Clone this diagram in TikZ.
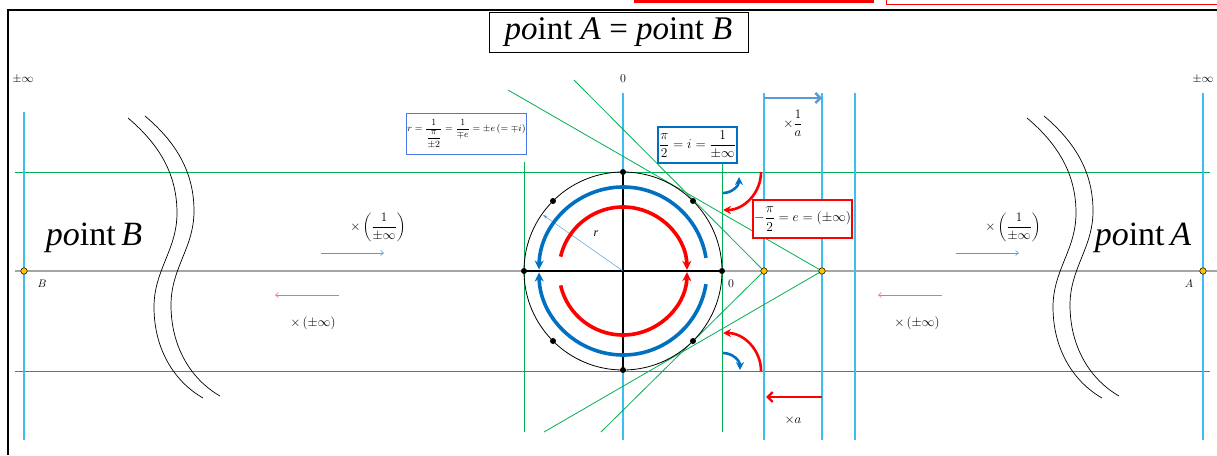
\RequirePackage{fix-cm}
\documentclass[tikz,border=0pt]{standalone}
\usepackage{amsmath}
\usepackage{fontspec}
\setmainfont{Liberation Serif}
\usetikzlibrary{arrows.meta, positioning, calc}
\definecolor{pgreen}{HTML}{00B050}
\definecolor{pcyan}{HTML}{3CBEF0}
\definecolor{pblue}{HTML}{0070C0}
\definecolor{pred}{HTML}{FF0000}
\definecolor{paxis}{HTML}{A6A6A6}
\definecolor{pyellow}{HTML}{FFC000}
\definecolor{pbox}{HTML}{4A78E8}
\definecolor{plblue}{HTML}{5B9BD5}
\definecolor{plred}{HTML}{FF6B6B}

\begin{document}
\begin{tikzpicture}[x=1pt, y=-1pt,
  gline/.style={draw=pgreen, line width=0.8pt},
  cline/.style={draw=pcyan, line width=1.3pt},
  vdot/.style={circle, fill=black, inner sep=0pt, minimum size=6pt},
  ydot/.style={circle, draw=black, fill=pyellow, inner sep=0pt, minimum size=6.5pt, line width=0.5pt},
  eqbox/.style={fill=white, inner sep=2pt, align=center},
  lbl/.style={font=\fontsize{12}{14}\selectfont, inner sep=0pt},
  mlbl/.style={font=\fontsize{13}{15}\selectfont, inner sep=0pt},
  big/.style={font=\fontsize{34}{36}\selectfont, inner sep=0pt},
  bigarc/.style={line width=3.6pt, -{Stealth[length=9pt, width=9pt]}},
  smallarc/.style={line width=2.6pt, -{Stealth[length=8pt, width=8pt]}},
  thinarr/.style={line width=0.6pt, -{Straight Barb[length=3pt, width=5pt]}},
  fatarr/.style={line width=2.4pt, -{Straight Barb[length=5pt, width=10pt]}}
]
  \useasboundingbox (0,0) rectangle (1217,455);

  % Frame at the top
  \fill[pred] (634,0) rectangle (874,2.5);
  \draw[pred, line width=0.8pt] (886,-4) rectangle (1225,4);
  \draw[line width=1.8pt] (8,455) -- (8,10) -- (1217,10);

  % Main axis
  \coordinate (axL) at (15,271);
  \coordinate (axR) at (1217,271);
  \draw[paxis, line width=1.4pt] (axL) -- (axR);

  % Green grid
  \foreach \py in {172, 371}
    \draw[gline] (15,\py) -- (1210,\py);
  \foreach \px in {524, 722}
    \draw[gline] (\px,162) -- (\px,432);

  % Cyan verticals
  \foreach \px/\py in {24/112, 623/93, 764/93, 822/93, 855/93, 1203/93}
    \draw[cline] (\px,\py) -- (\px,440);

  % Key points
  \coordinate (O) at (623,271);
  \node[ydot] (B) at (24,271) {};
  \node[ydot] (P1) at (764,271) {};
  \node[ydot] (P2) at (822,271) {};
  \node[ydot] (A) at (1203,271) {};

  % Tangent lines
  \coordinate (t1) at (508,90);
  \coordinate (t2) at (574,80);
  \coordinate (t3) at (544,432);
  \coordinate (t4) at (601,432);
  \draw[gline] (t1) -- (P2);
  \draw[gline] (t3) -- (P2);
  \draw[gline] (t2) -- (P1);
  \draw[gline] (t4) -- (P1);

  % Circle
  \draw[line width=0.8pt] (O) circle[radius=99];
  \foreach \a in {0,45,...,315}
    \coordinate (c\a) at ($(O)+(\a:99)$);
  \draw[line width=1.2pt] (c180) -- (c0);
  \draw[line width=1.2pt] (c90) -- (c270);
  \draw[plblue, line width=0.5pt, -{Stealth[length=5pt, width=3pt]}] (O) -- ($(O)+(-145:98)$) coordinate (rE);
  \node[lbl, font=\fontsize{12}{14}\selectfont\itshape] (rlab) at (596,234) {r};

  % Turning arcs
  \draw[pblue, bigarc] ($(O)+(-9:84)$) arc[start angle=-9, end angle=-179, radius=84];
  \draw[pblue, bigarc] ($(O)+(9:84)$) arc[start angle=9, end angle=179, radius=84];
  \draw[pred, bigarc] ($(O)+(-167:64)$) arc[start angle=-167, end angle=-1, radius=64];
  \draw[pred, bigarc] ($(O)+(167:64)$) arc[start angle=167, end angle=1, radius=64];

  \foreach \a in {0,45,...,315}
    \node[vdot] (d\a) at (c\a) {};

  % Small arcs by the circle
  \coordinate (sb1) at (723,193);
  \coordinate (sr1) at (761,172);
  \coordinate (sb2) at (723,353);
  \coordinate (sr2) at (761,371);
  \draw[pblue, smallarc] (sb1) arc[start angle=90, end angle=0, radius=16];
  \draw[pred, smallarc] (sr1) arc[start angle=0, end angle=90, radius=38];
  \draw[pblue, smallarc] (sb2) arc[start angle=-90, end angle=0, radius=17];
  \draw[pred, smallarc] (sr2) arc[start angle=0, end angle=-90, radius=38];

  % Wavy cuts
  \foreach \dx/\dy in {0/0, 17/-2, 899/0, 916/-2}
    \draw[line width=0.7pt, shift={(\dx,\dy)}]
      (128,118) .. controls (160,145) and (177,175) .. (177,213)
      .. controls (177,250) and (154,270) .. (154,307)
      .. controls (154,350) and (175,382) .. (203,398);

  % Boxes
  \node[eqbox, draw=black, line width=0.8pt, minimum width=259pt, minimum height=40pt,
        font=\fontsize{33}{35}\selectfont] (title) at (618.5,32)
        {\textit{po}int \textit{A} = \textit{po}int \textit{B}};
  \node[eqbox, draw=pbox, line width=0.8pt, minimum width=119pt, minimum height=41pt,
        inner sep=1pt, font=\fontsize{9.5}{11}\selectfont] (rbox) at (466.5,133.5)
        {$r=\dfrac{1}{\dfrac{\pi}{\pm 2}}=\dfrac{1}{\mp e}=\pm e\left(=\mp i\right)$};
  \node[eqbox, draw=pblue, line width=1.6pt, minimum width=79pt, minimum height=36pt,
        inner sep=1pt, font=\fontsize{13.5}{15}\selectfont] (ibox) at (697.5,145)
        {$\dfrac{\pi}{2}=i=\dfrac{1}{\pm\infty}$};
  \node[eqbox, draw=pred, line width=1.6pt, minimum width=99pt, minimum height=38pt,
        inner sep=1pt, font=\fontsize{13.5}{15}\selectfont] (ebox) at (802.5,219)
        {$-\dfrac{\pi}{2}=e=\left(\pm\infty\right)$};

  % Big labels
  \node[big] (ptB) at (94,238) {\textit{po}int\,\textit{B}};
  \node[big] (ptA) at (1143,238) {\textit{po}int\,\textit{A}};

  % Axis labels
  \node[lbl] (infL) at (23,79) {$\pm\infty$};
  \node[lbl] (infR) at (1203,79) {$\pm\infty$};
  \node[lbl] (zeroT) at (623,79) {$0$};
  \node[lbl] (zeroR) at (731,284) {$0$};
  \node[lbl, font=\fontsize{11}{12}\selectfont] (labB) at (42,284) {$B$};
  \node[lbl, font=\fontsize{11}{12}\selectfont] (labA) at (1189,284) {$A$};

  % Scale arrows
  \coordinate (ka1) at (764,98);
  \coordinate (ka2) at (822,98);
  \coordinate (kb1) at (822,397);
  \coordinate (kb2) at (766,397);
  \draw[plblue, fatarr] (ka1) -- (ka2);
  \draw[pred, fatarr] (kb1) -- (kb2);
  \node[mlbl] (inva) at (793,123) {$\times\dfrac{1}{a}$};
  \node[mlbl] (mula) at (793,420) {$\times a$};

  \coordinate (bl1) at (321,253);
  \coordinate (bl2) at (384,253);
  \coordinate (rl1) at (339,295);
  \coordinate (rl2) at (275,295);
  \coordinate (br1) at (956,253);
  \coordinate (br2) at (1019,253);
  \coordinate (rr1) at (942,295);
  \coordinate (rr2) at (878,295);
  \draw[plblue, thinarr] (bl1) -- (bl2);
  \draw[plred, thinarr] (rl1) -- (rl2);
  \draw[plblue, thinarr] (br1) -- (br2);
  \draw[plred, thinarr] (rr1) -- (rr2);
  \node[mlbl] (fracL) at (378,227) {$\times\left(\dfrac{1}{\pm\infty}\right)$};
  \node[mlbl] (fracR) at (1013,227) {$\times\left(\dfrac{1}{\pm\infty}\right)$};
  \node[mlbl] (infmL) at (313,323) {$\times\left(\pm\infty\right)$};
  \node[mlbl] (infmR) at (917,323) {$\times\left(\pm\infty\right)$};
\end{tikzpicture}
\end{document}
